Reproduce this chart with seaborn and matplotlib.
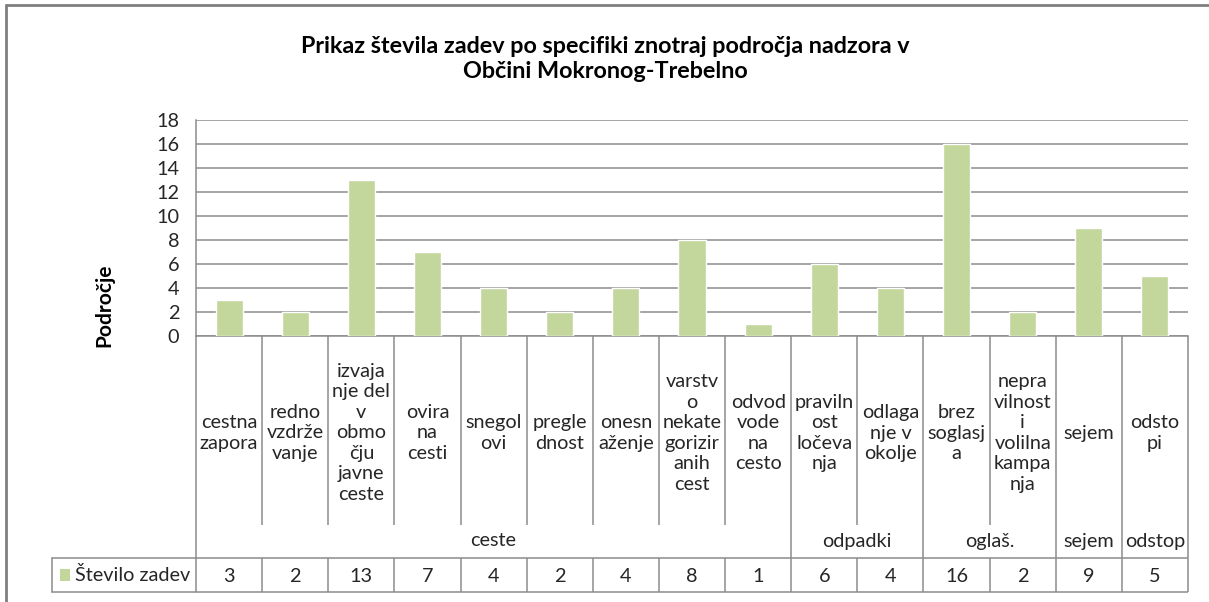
import matplotlib
matplotlib.use("Agg")
import matplotlib.pyplot as plt
import matplotlib.transforms as mtransforms
import pandas as pd
import seaborn as sns

# podatki (prebrano z grafa)
kategorije = [
    "cestna\nzapora",
    "redno\nvzdrže\nvanje",
    "izvaja\nnje del\nv\nobmo\nčju\njavne\nceste",
    "ovira\nna\ncesti",
    "snegol\novi",
    "pregle\ndnost",
    "onesn\naženje",
    "varstv\no\nnekate\ngorizir\nanih\ncest",
    "odvod\nvode\nna\ncesto",
    "praviln\nost\nločeva\nnja",
    "odlaga\nnje v\nokolje",
    "brez\nsoglasj\na",
    "nepra\nvilnost\ni\nvolilna\nkampa\nnja",
    "sejem",
    "odsto\npi",
]
skupine = ["ceste", "ceste", "ceste", "ceste", "ceste", "ceste", "ceste", "ceste", "ceste",
           "odpadki", "odpadki", "oglaš.", "oglaš.", "sejem", "odstop"]
stevilo_zadev = [3, 2, 13, 7, 4, 2, 4, 8, 1, 6, 4, 16, 2, 9, 5]
y_oznake = [0, 2, 4, 6, 8, 10, 12, 14, 16, 18]

naslov = "Prikaz števila zadev po specifiki znotraj področja nadzora v\nObčini Mokronog-Trebelno"
os_y = "Področje"
serija = "Število zadev"

ZELENA = "#C3D69B"
SIVA = "#8C8C8C"
TEKST = "#262626"
FS = 14.3

W, H = 1209, 602

sns.set_theme(style="white")
plt.rcParams['font.family'] = ['Lato', 'DejaVu Sans']
plt.rcParams['text.color'] = TEKST


def fx(px):
    return px / W


def fy(py):
    return 1 - py / H


fig = plt.figure(figsize=(W / 100, H / 100), dpi=100)
ax = fig.add_axes([fx(196), fy(336), fx(1188) - fx(196), fy(120) - fy(336)])

df = pd.DataFrame({"kat": kategorije, "n": stevilo_zadev})
sns.barplot(data=df, x="kat", y="n", order=kategorije, color=ZELENA,
            saturation=1, width=0.41, ax=ax, zorder=3)

ax.set_xlim(-0.5, len(kategorije) - 0.5)
ax.set_ylim(0, 18)
ax.set_yticks(y_oznake)
ax.set_xticks([])
ax.set_xlabel("")
ax.set_ylabel("")
ax.tick_params(axis="y", length=0, pad=12, labelsize=FS, labelcolor=TEKST)
ax.yaxis.grid(True, color=SIVA, lw=1.1)
ax.set_axisbelow(True)
for s in ["top", "right"]:
    ax.spines[s].set_visible(False)
for s in ["left", "bottom"]:
    ax.spines[s].set_color(SIVA)
    ax.spines[s].set_linewidth(1.1)

# tabela pod grafom: x v podatkih, y v koordinatah slike
trans = mtransforms.blended_transform_factory(ax.transData, fig.transFigure)
n = len(kategorije)


def crta(x0, x1, py0, py1):
    ax.plot([x0, x1], [fy(py0), fy(py1)], color=SIVA, lw=1.1,
            transform=trans, clip_on=False, solid_capstyle="butt")


for i in range(n + 1):
    b = i - 0.5
    if i == 0 or i == n or skupine[i - 1] != skupine[i]:
        crta(b, b, 336, 592)
    else:
        crta(b, b, 336, 525)
        crta(b, b, 558, 592)

for i, lab in enumerate(kategorije):
    ax.text(i, fy(433), lab, transform=trans, ha="center", va="center",
            fontsize=FS, linespacing=1.25, color=TEKST)
    ax.text(i, fy(576), str(stevilo_zadev[i]), transform=trans,
            ha="center", va="center", fontsize=FS, color=TEKST)

# oznake skupin
zacetek = 0
for i in range(1, n + 1):
    if i == n or skupine[i] != skupine[zacetek]:
        ax.text((zacetek + i - 1) / 2, fy(541), skupine[zacetek], transform=trans,
                ha="center", va="center", fontsize=FS, color=TEKST)
        zacetek = i

# vrstica tabele s podatki in legenda
for py in (558, 592):
    fig.add_artist(plt.Line2D([fx(52), fx(196)], [fy(py), fy(py)], color=SIVA, lw=1.1))
    crta(-0.5, n - 0.5, py, py)
fig.add_artist(plt.Line2D([fx(52), fx(52)], [fy(558), fy(592)], color=SIVA, lw=1.1))
fig.add_artist(plt.Rectangle((fx(60), fy(581)), fx(10), fy(569) - fy(581),
                             color=ZELENA, lw=0))
fig.text(fx(75), fy(575), serija, ha="left", va="center", fontsize=FS, color=TEKST)

# naslov in oznaka osi
fig.text(0.501, fy(59), naslov, ha="center", va="center", fontsize=16.8,
         fontweight="bold", linespacing=1.2, color="black")
fig.text(fx(104), fy(305), os_y, ha="center", va="center", rotation=90,
         fontsize=15, fontweight="bold", color="black")

# okvir grafikona
fig.add_artist(plt.Line2D([fx(6), 1], [fy(5), fy(5)], color="#7F7F7F", lw=2))
fig.add_artist(plt.Line2D([fx(6), fx(6)], [fy(5), 0], color="#7F7F7F", lw=2))

fig.savefig("out.png", dpi=100, facecolor="white")
